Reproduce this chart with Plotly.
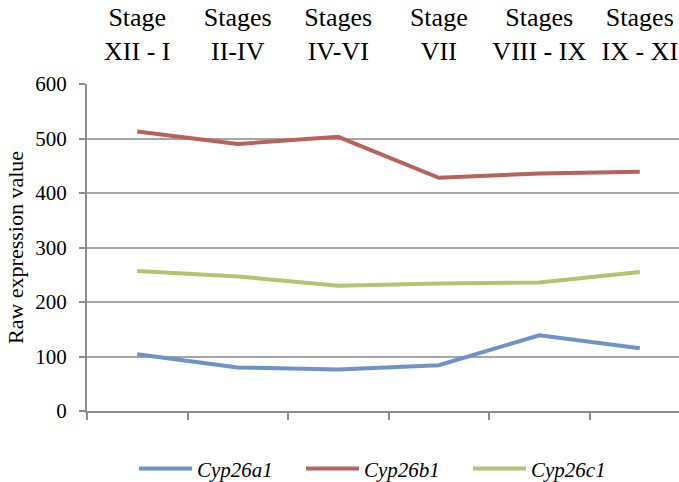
import plotly.graph_objects as go

categories = ["Stage<br>XII - I", "Stages<br>II-IV", "Stages<br>IV-VI", "Stage<br>VII",
              "Stages<br>VIII - IX", "Stages<br>IX - XI"]
cyp26a1 = [104, 80, 76, 84, 139, 115]
cyp26b1 = [513, 490, 503, 428, 436, 439]
cyp26c1 = [257, 247, 230, 234, 236, 255]
series_names = ["Cyp26a1", "Cyp26b1", "Cyp26c1"]
series_colors = ["#6F93C6", "#B9625C", "#AFC66F"]
y_ticks = [0, 100, 200, 300, 400, 500, 600]

FONT = "Liberation Serif"
GRID = "#A6A6A6"
AXIS = "#8C8C8C"

fig = go.Figure()
for name, vals, col in zip(series_names, [cyp26a1, cyp26b1, cyp26c1], series_colors):
    fig.add_trace(go.Scatter(
        x=categories, y=vals, mode="lines", name=f"<i>{name}</i>",
        line=dict(color=col, width=4), xaxis="x", yaxis="y",
    ))
# helper trace for bottom axis with boundary ticks
fig.add_trace(go.Scatter(x=categories, y=[None] * len(categories), xaxis="x2", yaxis="y",
                         showlegend=False, hoverinfo="skip", mode="lines"))

xr = [-0.5, 5.39]
fig.update_layout(
    width=679, height=482,
    margin=dict(l=87, r=0, t=84, b=71, autoexpand=False),
    paper_bgcolor="white", plot_bgcolor="white",
    font=dict(family=FONT, color="black", size=20),
    showlegend=True,
    legend=dict(orientation="h", x=0.0794, xanchor="left", y=-0.177, yanchor="middle",
                font=dict(family=FONT, size=21), entrywidth=99, entrywidthmode="pixels",
                itemwidth=53),
    xaxis=dict(type="category", side="top", range=xr, showline=False, showgrid=False,
               ticks="", tickfont=dict(family=FONT, size=26), zeroline=False,
               ticklabelstandoff=18),
    xaxis2=dict(type="category", overlaying="x", side="bottom", anchor="y", range=xr,
                showline=True, linecolor=AXIS, linewidth=2, showgrid=False,
                ticks="outside", tickson="boundaries", ticklen=7, tickwidth=2, tickcolor=AXIS,
                showticklabels=False, zeroline=False),
    yaxis=dict(range=[0, 600], tickvals=y_ticks, showgrid=True, gridcolor=GRID, gridwidth=2,
               showline=True, linecolor=AXIS, linewidth=2, ticks="outside", ticklen=6,
               tickwidth=2, tickcolor=AXIS, zeroline=False,
               tickfont=dict(family=FONT, size=21), ticklabelstandoff=8,
               title=dict(text="Raw expression value", font=dict(family=FONT, size=22),
                          standoff=6)),
)

fig.write_html("out.html")
